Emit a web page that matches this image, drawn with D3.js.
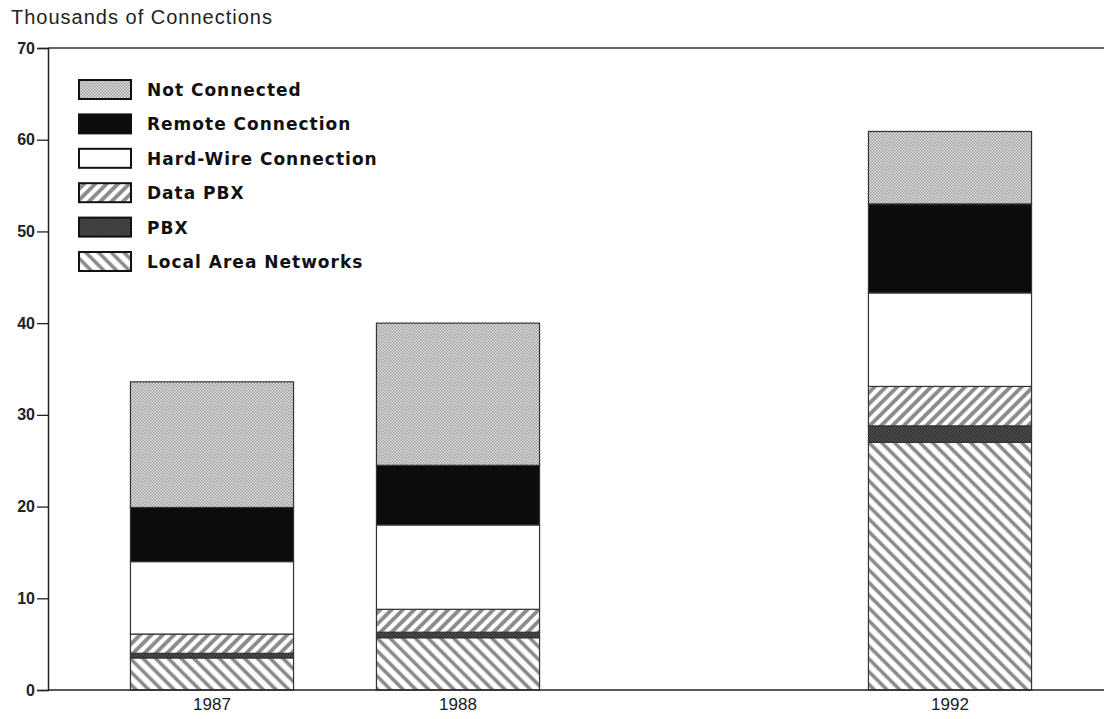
<!DOCTYPE html>
<html>
<head>
<meta charset="utf-8">
<script src="https://cdn.jsdelivr.net/npm/d3@7"></script>
<style>
  body { margin: 0; background: #fff; }
  svg { display: block; font-family: "Liberation Sans", Arial, sans-serif; }
</style>
</head>
<body>
<svg id="chart" width="1104" height="719"></svg>
<script>
// slots along the x axis (the blank one keeps the gap before 1992)
var slots = ["1987", "1988", "", "1992"]
var years = ["1987", "1988", "1992"]
// stacking order, bottom first
var series = ["Local Area Networks", "PBX", "Data PBX", "Hard-Wire Connection", "Remote Connection", "Not Connected"]
var lanValues      = [3.5, 5.7, 27.0]
var pbxValues      = [0.5, 0.6, 1.8]
var dataPbxValues  = [2.1, 2.5, 4.3]
var hardWireValues = [7.9, 9.2, 10.2]
var remoteValues   = [5.9, 6.5, 9.7]
var notConnValues  = [13.7, 15.5, 7.9]
var yTicks = [0, 10, 20, 30, 40, 50, 60, 70]

var svg = d3.select('#chart')
var chartW = 1104
var plotLeft = 48, plotTop = 48, plotBottom = 690

var x = d3.scaleBand().domain(slots).range([89, 1073]).paddingInner(0.337).paddingOuter(0.1685)
var y = d3.scaleLinear().domain([0, 70]).range([plotBottom, plotTop])

// fill patterns
var defs = svg.append('defs')
function dots(id, bg, fg) {
    var p = defs.append('pattern').attr('id', id).attr('patternUnits', 'userSpaceOnUse')
        .attr('width', 3).attr('height', 3)
    p.append('rect').attr('width', 3).attr('height', 3).attr('fill', bg)
    p.append('rect').attr('width', 1.5).attr('height', 1.5).attr('fill', fg)
    p.append('rect').attr('x', 1.5).attr('y', 1.5).attr('width', 1.5).attr('height', 1.5).attr('fill', fg)
}
function hatch(id, angle, gap, lw) {
    var p = defs.append('pattern').attr('id', id).attr('patternUnits', 'userSpaceOnUse')
        .attr('width', gap).attr('height', gap).attr('patternTransform', 'rotate(' + angle + ')')
    p.append('rect').attr('width', gap).attr('height', gap).attr('fill', '#fff')
    p.append('line').attr('x1', gap / 2).attr('x2', gap / 2).attr('y1', 0).attr('y2', gap)
        .attr('stroke', '#8a8a8a').attr('stroke-width', lw)
}
dots('pNot', '#e4e4e4', '#9a9a9a')
dots('pPbx', '#5a5a5a', '#262626')
hatch('pData', 45, 8, 3.8)
hatch('pLan', -45, 9, 3.6)

var fills = {
    "Local Area Networks": 'url(#pLan)',
    "PBX": 'url(#pPbx)',
    "Data PBX": 'url(#pData)',
    "Hard-Wire Connection": '#fff',
    "Remote Connection": '#0c0c0c',
    "Not Connected": 'url(#pNot)'
}

var rows = years.map(function(yr, i) {
    return {
        year: yr,
        "Local Area Networks": lanValues[i],
        "PBX": pbxValues[i],
        "Data PBX": dataPbxValues[i],
        "Hard-Wire Connection": hardWireValues[i],
        "Remote Connection": remoteValues[i],
        "Not Connected": notConnValues[i]
    }
})
var stacked = d3.stack().keys(series)(rows)

// title
svg.append('text').attr('x', 11).attr('y', 24)
    .attr('font-size', 20).attr('letter-spacing', 1).attr('fill', '#222')
    .text('Thousands of Connections')

// frame: top line, left axis, bottom axis
svg.append('line').attr('x1', plotLeft).attr('x2', chartW).attr('y1', plotTop).attr('y2', plotTop)
    .attr('stroke', '#333').attr('stroke-width', 1.3)

var yAxis = svg.append('g').attr('transform', 'translate(' + plotLeft + ',0)')
    .call(d3.axisLeft(y).tickValues(yTicks).tickSize(11).tickPadding(2))
yAxis.select('.domain').attr('stroke', '#222').attr('stroke-width', 1.5)
yAxis.selectAll('.tick line').attr('stroke', '#222').attr('stroke-width', 1.3)
yAxis.selectAll('.tick text').attr('font-size', 16).attr('font-weight', 'bold')
    .attr('font-family', '"Liberation Sans", Arial, sans-serif').attr('fill', '#222')

// bars
svg.append('g').selectAll('g').data(stacked).join('g')
    .attr('fill', function(d) { return fills[d.key] })
    .selectAll('rect').data(function(d) { return d }).join('rect')
    .attr('x', function(d) { return x(d.data.year) })
    .attr('width', x.bandwidth())
    .attr('y', function(d) { return y(d[1]) })
    .attr('height', function(d) { return y(d[0]) - y(d[1]) })
    .attr('stroke', '#333').attr('stroke-width', 1.2)

var xAxis = svg.append('g').attr('transform', 'translate(0,' + plotBottom + ')')
    .call(d3.axisBottom(x).tickValues(years).tickSize(0).tickPadding(8))
xAxis.select('.domain').attr('d', 'M' + plotLeft + ',0H' + chartW).attr('stroke', '#222').attr('stroke-width', 1.5)
xAxis.selectAll('.tick text').attr('font-size', 17).attr('fill', '#1a1a1a')
    .attr('font-family', '"Liberation Sans", Arial, sans-serif')

// legend, top to bottom
var legendItems = series.slice().reverse()
var lg = svg.append('g').attr('transform', 'translate(79,80)')
var item = lg.selectAll('g').data(legendItems).join('g')
    .attr('transform', function(d, i) { return 'translate(0,' + (i * 34.4) + ')' })
item.append('rect').attr('width', 52).attr('height', 19)
    .attr('fill', function(d) { return fills[d] })
    .attr('stroke', '#111').attr('stroke-width', 2)
item.append('text').attr('x', 68).attr('y', 16)
    .attr('font-family', '"DejaVu Sans", sans-serif')
    .attr('font-size', 17).attr('font-weight', 'bold').attr('letter-spacing', 1)
    .attr('fill', '#111')
    .text(function(d) { return d })
</script>
</body>
</html>
